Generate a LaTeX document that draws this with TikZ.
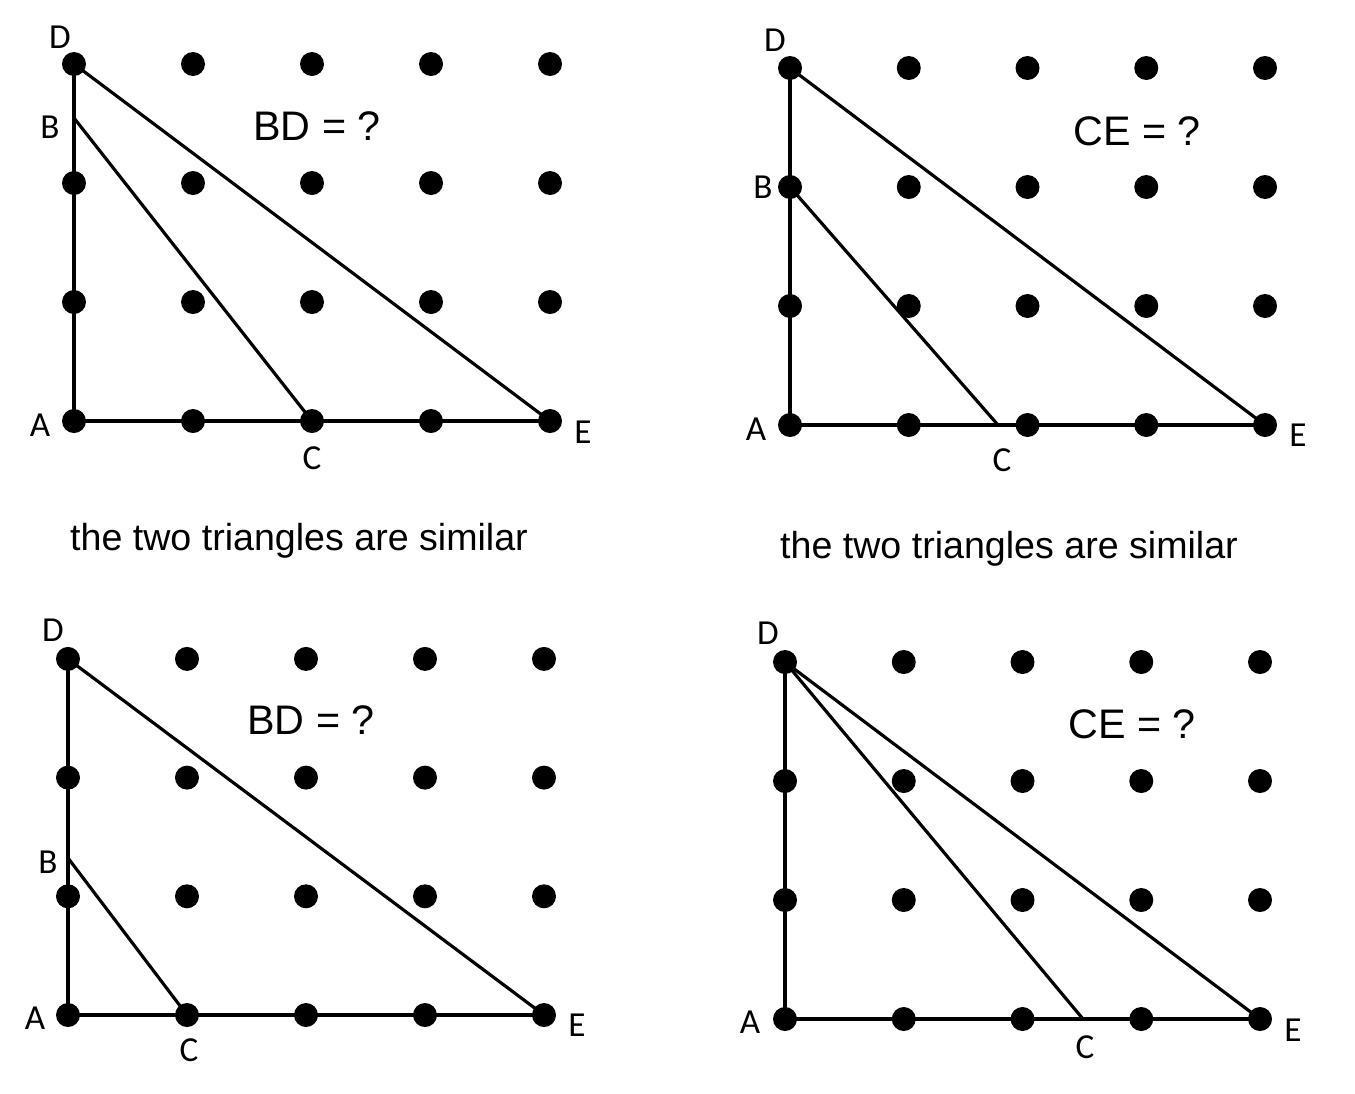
\documentclass[tikz,border=0pt]{standalone}
\usepackage{fontspec}
\setmainfont{Liberation Sans}
\newfontfamily\lblfont{Carlito}
\usepackage{tikz}

\begin{document}
\begin{tikzpicture}[
    x=0.02cm, y=-0.02cm,
    dot/.style={circle, fill=black, inner sep=0pt, minimum size=0.48cm},
    side/.style={line width=2.7pt},
    base/.style={line width=2.2pt},
    slant/.style={line width=1.8pt},
    lbl/.style={inner sep=0pt, font=\lblfont\fontsize{20}{22}\selectfont},
    ask/.style={inner sep=0pt, anchor=base, font=\fontsize{21.4}{24}\selectfont},
    question/.style={inner sep=0pt, anchor=base, font=\fontsize{23.5}{26}\selectfont}
]
\useasboundingbox (0,0) rectangle (1355,1093);

% top left
\begin{scope}[shift={(74,421)}]
\coordinate (A1) at (0,0);
\coordinate (D1) at (0,-357);
\coordinate (E1) at (476,0);
\coordinate (C1) at (238,0);
\coordinate (B1) at (0,-303);
\draw[side] (A1) -- (D1);
\draw[base] (A1) -- (E1);
\draw[slant] (D1) -- (E1);
\draw[slant] (B1) -- (C1);
\foreach \i in {0,...,4}
  \foreach \j in {0,...,3}
    \node[dot] (p1-\i-\j) at (\i*119,-\j*119) {};
\end{scope}
\node[lbl] (lD1) at ([shift={(-14,-27)}]D1) {D};
\node[lbl] (lB1) at ([shift={(-24,9)}]B1) {B};
\node[lbl] (lA1) at ([shift={(-34,4)}]A1) {A};
\node[lbl] (lC1) at ([shift={(0,37)}]C1) {C};
\node[lbl] (lE1) at ([shift={(33,11)}]E1) {E};
\node[question] (q1) at (317,140) {BD = ?};

% top right
\begin{scope}[shift={(790,425)}]
\coordinate (A2) at (0,0);
\coordinate (D2) at (0,-357);
\coordinate (E2) at (475,0);
\coordinate (C2) at (208,0);
\coordinate (B2) at (0,-238);
\draw[side] (A2) -- (D2);
\draw[base] (A2) -- (E2);
\draw[slant] (D2) -- (E2);
\draw[slant] (B2) -- (C2);
\foreach \i in {0,...,4}
  \foreach \j in {0,...,3}
    \node[dot] (p2-\i-\j) at (\i*118.75,-\j*119) {};
\end{scope}
\node[lbl] (lD2) at ([shift={(-15,-28)}]D2) {D};
\node[lbl] (lB2) at ([shift={(-27,0)}]B2) {B};
\node[lbl] (lA2) at ([shift={(-34,4)}]A2) {A};
\node[lbl] (lC2) at ([shift={(4,35)}]C2) {C};
\node[lbl] (lE2) at ([shift={(33,10)}]E2) {E};
\node[question] (q2) at (1137,145) {CE = ?};

% captions
\node[ask] (cap1) at (299,550) {the two triangles are similar};
\node[ask] (cap2) at (1009,558) {the two triangles are similar};

% bottom left
\begin{scope}[shift={(68,1015)}]
\coordinate (A3) at (0,0);
\coordinate (D3) at (0,-356);
\coordinate (E3) at (476,0);
\coordinate (C3) at (119,0);
\coordinate (B3) at (0,-157);
\draw[side] (A3) -- (D3);
\draw[base] (A3) -- (E3);
\draw[slant] (D3) -- (E3);
\draw[slant] (B3) -- (C3);
\foreach \i in {0,...,4}
  \foreach \j in {0,...,3}
    \node[dot] (p3-\i-\j) at (\i*119,-\j*118.7) {};
\end{scope}
\node[lbl] (lD3) at ([shift={(-15,-29)}]D3) {D};
\node[lbl] (lB3) at ([shift={(-20,4)}]B3) {B};
\node[lbl] (lA3) at ([shift={(-33,3)}]A3) {A};
\node[lbl] (lC3) at ([shift={(2,35)}]C3) {C};
\node[lbl] (lE3) at ([shift={(33,10)}]E3) {E};
\node[question] (q3) at (311,734) {BD = ?};

% bottom right
\begin{scope}[shift={(785,1019)}]
\coordinate (A4) at (0,0);
\coordinate (D4) at (0,-357);
\coordinate (E4) at (475,0);
\coordinate (C4) at (298,0);
\draw[side] (A4) -- (D4);
\draw[base] (A4) -- (E4);
\draw[slant] (D4) -- (E4);
\draw[slant] (D4) -- (C4);
\foreach \i in {0,...,4}
  \foreach \j in {0,...,3}
    \node[dot] (p4-\i-\j) at (\i*118.75,-\j*119) {};
\end{scope}
\node[lbl] (lD4) at ([shift={(-17,-29)}]D4) {D};
\node[lbl] (lA4) at ([shift={(-35,3)}]A4) {A};
\node[lbl] (lC4) at ([shift={(2,28)}]C4) {C};
\node[lbl] (lE4) at ([shift={(33,11)}]E4) {E};
\node[question] (q4) at (1132,738) {CE = ?};

\end{tikzpicture}
\end{document}
